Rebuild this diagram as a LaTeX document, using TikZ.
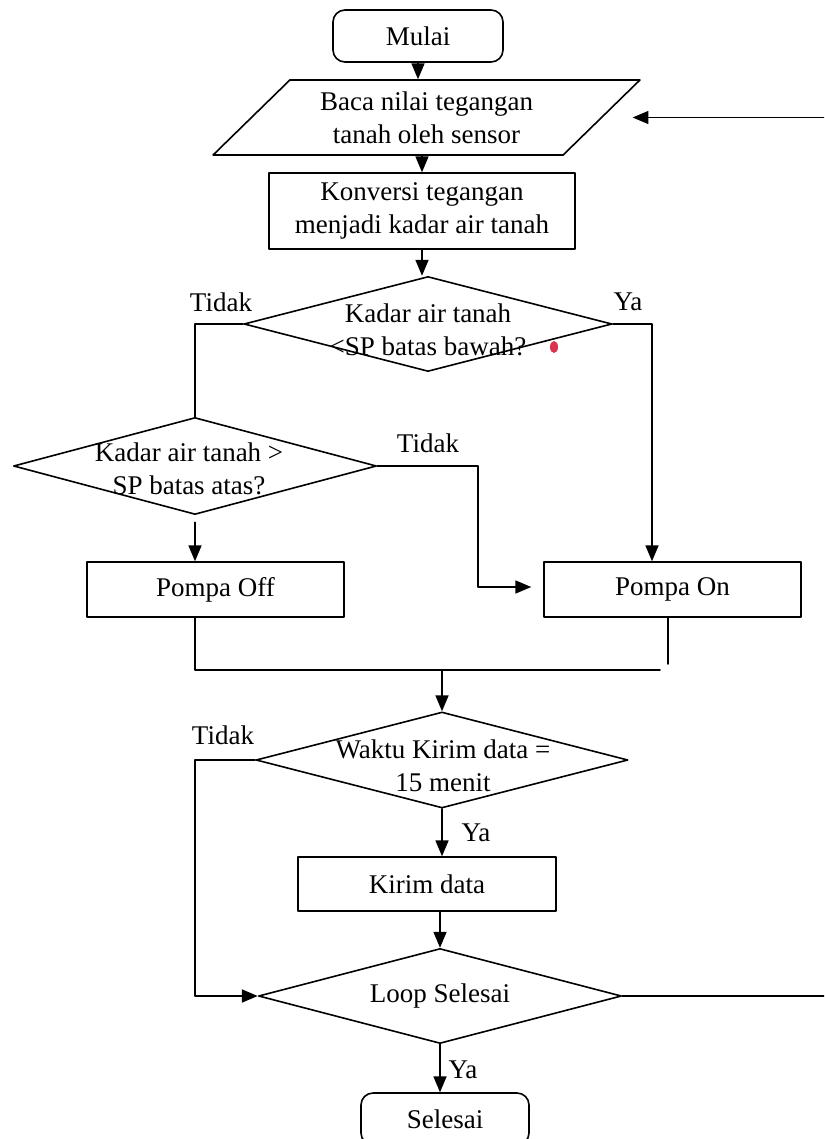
\documentclass[tikz,border=0pt]{standalone}
\usepackage{fontspec}
\setmainfont{Liberation Serif}
\usetikzlibrary{arrows}
\usetikzlibrary{arrows.meta}
\usetikzlibrary{shapes.geometric}
\definecolor{ddqqqq}{rgb}{0.86,0.2,0.3}

\begin{document}
\begin{tikzpicture}[line cap=round,line join=round,>=triangle 45,x=0.5pt,y=-0.5pt,line width=0.8pt,
  every node/.style={font=\fontsize{13.5pt}{16.5pt}\selectfont,align=center},
  terminal/.style={draw,rectangle,rounded corners=6pt,minimum width=84pt,minimum height=26pt,inner sep=0pt},
  proses/.style={draw,rectangle,inner sep=0pt},
  masukan/.style={draw,trapezium,trapezium left angle=41,trapezium right angle=139,trapezium stretches=true,inner sep=0pt},
  keputusan/.style={draw,diamond,inner sep=0pt,aspect=3.8}]
\useasboundingbox (0,0) rectangle (824,1139);
\clip (0,0) rectangle (824,1139);
% kotak-kotak
\node[terminal,minimum width=85pt] (mulai) at (418,36) {Mulai};
\node[masukan,minimum width=213.5pt,minimum height=37.5pt] (baca) at (426.5,117.5) {Baca nilai tegangan\\tanah oleh sensor};
\node[proses,minimum width=153pt,minimum height=38pt] (konversi) at (422,211) {Konversi tegangan\\menjadi kadar air tanah};
\node[keputusan,minimum width=184pt,minimum height=47.5pt] (cekbawah) at (428,324) {};
\node (cekbawahteks) at (428,330) {Kadar air tanah\\<SP batas bawah?};
\node[keputusan,minimum width=181.5pt,minimum height=48.5pt] (cekatas) at (195,466) {};
\node (cekatasteks) at (189,469) {Kadar air tanah >\\SP batas atas?};
\node[proses,minimum width=128.5pt,minimum height=27.5pt] (off) at (215.5,589.5) {Pompa Off};
\node[proses,minimum width=128.5pt,minimum height=27.5pt] (on) at (672.5,589.5) {Pompa On};
\node[keputusan,minimum width=186pt,minimum height=48pt] (cekwaktu) at (442,760) {};
\node (cekwaktuteks) at (443,766) {Waktu Kirim data =\\15 menit};
\node[proses,minimum width=129pt,minimum height=27pt] (kirim) at (427,884) {Kirim data};
\node[keputusan,minimum width=181.5pt,minimum height=47.5pt] (cekloop) at (440,996) {Loop Selesai};
\node[terminal] (selesai) at (445,1119) {Selesai};
% keterangan
\node (tidak1) at (221,302) {Tidak};
\node (ya1) at (628,302) {Ya};
\node (tidak2) at (428,443) {Tidak};
\node (tidak3) at (223,735) {Tidak};
\node (ya2) at (476,833) {Ya};
\node (ya3) at (463,1070) {Ya};
\fill[color=ddqqqq] (554,347) ellipse (2pt and 3pt);
% titik bantu
\coordinate (belokya) at (652,324);
\coordinate (beloktidak) at (478,587);
\coordinate (gabung) at (442,670);
\coordinate (gabungkanan) at (660,670);
\coordinate (onbawah) at (668,664);
\coordinate (balik) at (850,113);
% garis
\draw[->] (mulai.south) -- (mulai.south |- baca.north);
\draw[->] (konversi.north |- baca.south) -- (konversi.north);
\draw[->] (konversi.south) -- (konversi.south |- cekbawah.north);
\draw (cekbawah.west) -| (cekatas.north);
\draw[->] (cekbawah.east) -- (belokya) -- (belokya |- on.north);
\draw[->,shorten >=6pt] (cekatas.east) -| (beloktidak) -- (beloktidak -| on.west);
\draw[->] ([yshift=-3.5pt]cekatas.south) -- (cekatas.south |- off.north);
\draw (cekatas.south |- off.south) -- (cekatas.south |- gabung) -- (gabungkanan);
\draw (onbawah |- on.south) -- (onbawah);
\draw[->] (gabung) -- (cekwaktu.north);
\draw[->] (cekwaktu.west) -- ++(-60,0) |- (cekloop.west);
\draw[->] (cekwaktu.south) -- (cekwaktu.south |- kirim.north);
\draw[->] (cekloop.north |- kirim.south) -- (cekloop.north);
\draw[->] (cekloop.south) -- (cekloop.south |- selesai.north);
\draw[->,shorten >=15pt] (cekloop.east) -- (cekloop.east -| balik) -- (balik |- baca.east) -- (baca.east);
\end{tikzpicture}
\end{document}
